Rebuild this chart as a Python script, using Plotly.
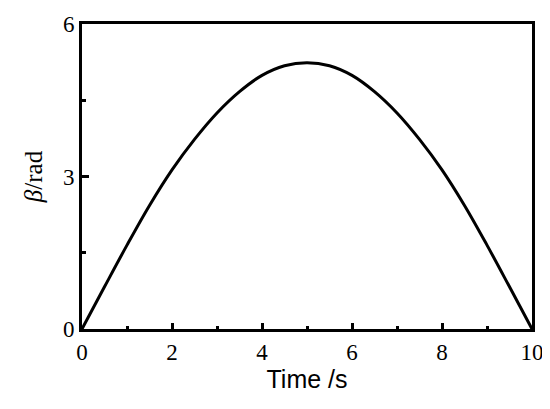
import plotly.graph_objects as go

time_s = [0, 0.5, 1, 1.5, 2, 2.5, 3, 3.5, 4, 4.5, 5, 5.5, 6, 6.5, 7, 7.5, 8, 8.5, 9, 9.5, 10]
beta_rad = [0, 0.83, 1.65, 2.43, 3.13, 3.73, 4.25, 4.67, 4.99, 5.18, 5.24, 5.18, 4.99, 4.67, 4.25, 3.73, 3.13, 2.43, 1.65, 0.83, 0]

x_ticks = [0, 2, 4, 6, 8, 10]
y_ticks = [0, 3, 6]

fig = go.Figure()
fig.add_trace(go.Scatter(x=time_s, y=beta_rad, mode="lines",
                         line=dict(color="black", width=3, shape="spline", smoothing=1.0),
                         showlegend=False))

serif = "Liberation Serif, Times New Roman, serif"
sans = "Liberation Sans, Arial, sans-serif"

fig.update_layout(
    width=550, height=409,
    margin=dict(l=74, r=26, t=16, b=88, autoexpand=False),
    paper_bgcolor="white", plot_bgcolor="white",
    xaxis=dict(range=[0, 10], tickvals=x_ticks, ticks="inside", ticklen=6, tickwidth=2.5,
               tickcolor="black", showline=True, linewidth=3, linecolor="black", mirror=True,
               showgrid=False, zeroline=False, automargin=False,
               tickfont=dict(family=serif, size=23, color="black"),
               minor=dict(dtick=1, tick0=0, ticks="inside", ticklen=3, tickwidth=2.5, tickcolor="black", showgrid=False),
               title=dict(text="Time /s", font=dict(family=sans, size=25, color="black"), standoff=6)),
    yaxis=dict(range=[0, 6], tickvals=y_ticks, ticks="inside", ticklen=7, tickwidth=2.5,
               tickcolor="black", showline=True, linewidth=3, linecolor="black", mirror=True,
               showgrid=False, zeroline=False, automargin=False,
               tickfont=dict(family=serif, size=23, color="black"),
               minor=dict(dtick=1.5, tick0=0, ticks="inside", ticklen=4, tickwidth=2.5, tickcolor="black", showgrid=False),
               title=dict(text="<i>β</i>/rad", font=dict(family=serif, size=25, color="black"), standoff=14)),
)

fig.write_html("out.html")
